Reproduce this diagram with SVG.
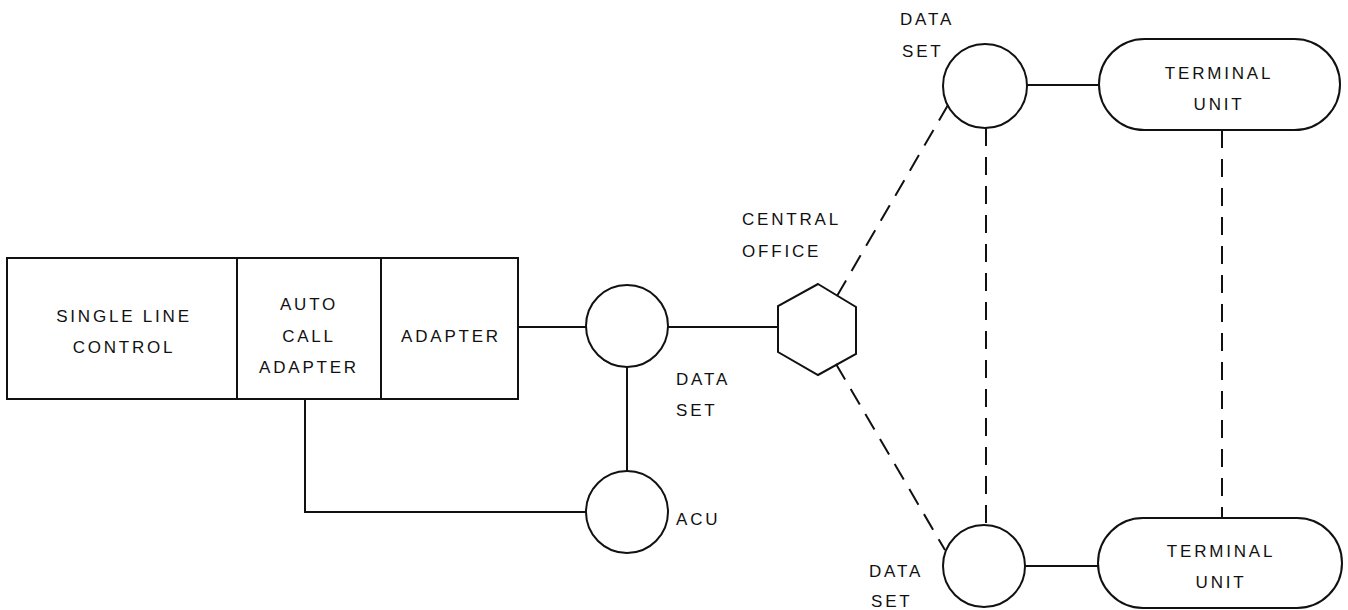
<svg xmlns="http://www.w3.org/2000/svg" width="1348" height="610" viewBox="0 0 1348 610">
  <style>
    .shape { fill: none; stroke: #111; stroke-width: 2; }
    .line { fill: none; stroke: #111; stroke-width: 2; }
    .dash { fill: none; stroke: #111; stroke-width: 2; stroke-dasharray: 18 11; }
    text { font-family: "Liberation Sans", Arial, sans-serif; font-size: 17px; fill: #111; letter-spacing: 2.8px; }
    .c { text-anchor: middle; }
  </style>
  <rect width="1348" height="610" fill="#fff"/>

  <!-- connectors -->
  <g id="connectors">
    <line class="line" x1="518" y1="327" x2="587" y2="327"/>
    <line class="line" x1="668" y1="327" x2="778" y2="327"/>
    <line class="line" x1="627" y1="367" x2="627" y2="471"/>
    <polyline class="line" points="305,399 305,512 587,512"/>
    <line class="line" x1="1027" y1="85" x2="1099" y2="85"/>
    <line class="line" x1="1025" y1="566" x2="1098" y2="566"/>
    <line class="dash" x1="837" y1="296" x2="948" y2="105"/>
    <line class="dash" x1="836" y1="364" x2="945" y2="550"/>
    <line class="dash" x1="986" y1="128" x2="986" y2="525"/>
    <line class="dash" x1="1222" y1="130" x2="1222" y2="518"/>
  </g>

  <!-- controller box -->
  <g id="single-line-control">
    <rect class="shape" x="7" y="258" width="230" height="141"/>
    <text class="c" x="124" y="322">SINGLE LINE</text>
    <text class="c" x="124" y="353">CONTROL</text>
  </g>
  <g id="auto-call-adapter">
    <rect class="shape" x="237" y="258" width="144" height="141"/>
    <text class="c" x="309" y="310">AUTO</text>
    <text class="c" x="309" y="342">CALL</text>
    <text class="c" x="309" y="373">ADAPTER</text>
  </g>
  <g id="adapter">
    <rect class="shape" x="381" y="258" width="137" height="141"/>
    <text class="c" x="451" y="342">ADAPTER</text>
  </g>

  <!-- local data set and ACU -->
  <g id="data-set-local">
    <circle class="shape" cx="627" cy="326" r="41"/>
    <text x="676" y="385">DATA</text>
    <text x="676" y="416">SET</text>
  </g>
  <g id="acu">
    <circle class="shape" cx="627" cy="512" r="41"/>
    <text x="676" y="525">ACU</text>
  </g>

  <!-- central office -->
  <g id="central-office">
    <polygon class="shape" points="818,284 856,307 856,354 818,375 778,352 778,306"/>
    <text x="742" y="225">CENTRAL</text>
    <text x="742" y="257">OFFICE</text>
  </g>

  <!-- remote data sets -->
  <g id="data-set-top">
    <circle class="shape" cx="985" cy="86" r="42"/>
    <text x="900" y="25">DATA</text>
    <text x="902" y="57">SET</text>
  </g>
  <g id="data-set-bottom">
    <circle class="shape" cx="984" cy="566" r="41"/>
    <text x="869" y="577">DATA</text>
    <text x="871" y="607">SET</text>
  </g>

  <!-- terminal units -->
  <g id="terminal-unit-top">
    <rect class="shape" x="1099" y="39" width="241" height="91" rx="45.5" ry="45.5"/>
    <text class="c" x="1219" y="79">TERMINAL</text>
    <text class="c" x="1219" y="110">UNIT</text>
  </g>
  <g id="terminal-unit-bottom">
    <rect class="shape" x="1098" y="518" width="244" height="90" rx="45" ry="45"/>
    <text class="c" x="1221" y="557">TERMINAL</text>
    <text class="c" x="1221" y="588">UNIT</text>
  </g>
</svg>
